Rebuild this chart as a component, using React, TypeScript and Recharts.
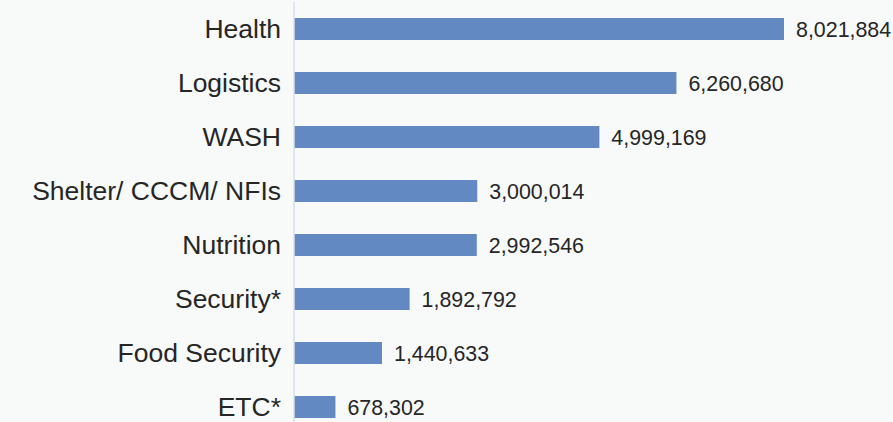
import { BarChart, Bar, XAxis, YAxis, LabelList } from 'recharts';

const sectors = [
  'Health',
  'Logistics',
  'WASH',
  'Shelter/ CCCM/ NFIs',
  'Nutrition',
  'Security*',
  'Food Security',
  'ETC*',
];
const funding = [8021884, 6260680, 4999169, 3000014, 2992546, 1892792, 1440633, 678302];

const data = sectors.map((name, i) => ({ name, value: funding[i] }));

const fmt = (v: any) => Number(v).toLocaleString('en-US');

export default function App() {
  return (
    <div
      style={{
        position: 'absolute',
        top: 0,
        left: 0,
        width: 893,
        height: 422,
        overflow: 'hidden',
        background: '#f8f9f9',
        fontFamily: '"Liberation Sans", Arial, sans-serif',
      }}
    >
      <BarChart
        width={893}
        height={434}
        data={data}
        layout="vertical"
        margin={{ top: 2, right: 109, left: 0, bottom: 0 }}
      >
        <XAxis type="number" hide domain={[0, 'dataMax']} />
        <YAxis
          type="category"
          dataKey="name"
          width={294}
          tickLine={false}
          tickSize={0}
          tickMargin={13}
          axisLine={{ stroke: '#d4def0', strokeWidth: 1.5 }}
          tick={{ fill: '#262626', fontSize: 26.5 }}
          interval={0}
        />
        <Bar dataKey="value" fill="#6389c2" barSize={22} isAnimationActive={false}>
          <LabelList
            dataKey="value"
            position="right"
            offset={12}
            formatter={fmt}
            style={{ fill: '#262626', fontSize: 21.4 }}
          />
        </Bar>
      </BarChart>
    </div>
  );
}
